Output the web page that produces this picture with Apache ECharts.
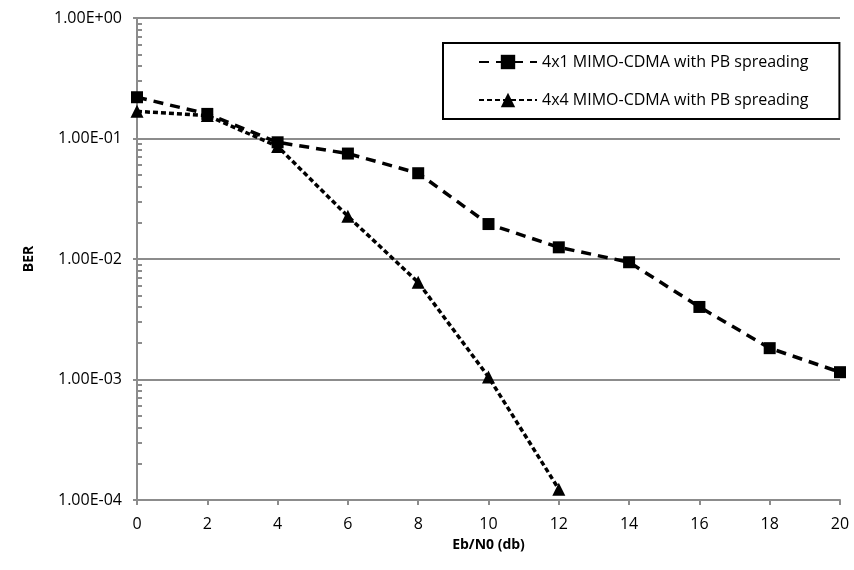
<!DOCTYPE html>
<html>
<head>
<meta charset="utf-8">
<script src="https://cdn.jsdelivr.net/npm/echarts@6/dist/echarts.min.js"></script>
<style>
  html, body { margin: 0; padding: 0; background: #fff; }
  #chart { width: 854px; height: 570px; }
</style>
</head>
<body>
<div id="chart"></div>
<script>
var ebn0 = [0, 2, 4, 6, 8, 10, 12, 14, 16, 18, 20];
var ber4x1 = [0.22, 0.16, 0.093, 0.075, 0.0515, 0.0195, 0.0125, 0.0094, 0.0040, 0.00182, 0.00115];
var ber4x4 = [0.168, 0.155, 0.086, 0.0226, 0.0064, 0.00105, 0.000123];
var seriesNames = ['4x1 MIMO-CDMA with PB spreading', '4x4 MIMO-CDMA with PB spreading'];

var gray = '#8c8c8c';
var font = '"Open Sans", Lato, sans-serif';

function pairs(xs, ys) {
  var out = [];
  for (var i = 0; i < ys.length; i++) {
    out.push([xs[i], ys[i]]);
  }
  return out;
}

// 1.00E-01 style labels
function sciLabel(v) {
  var p = v.toExponential(2).split('e');
  var ex = parseInt(p[1], 10);
  var a = Math.abs(ex);
  return p[0] + 'E' + (ex < 0 ? '-' : '+') + (a < 10 ? '0' : '') + a;
}

var chart = echarts.init(document.getElementById('chart'));
chart.setOption({
  animation: false,
  textStyle: { fontFamily: font },
  grid: { left: 137, right: 14, top: 18, bottom: 70 },
  legend: {
    orient: 'vertical',
    left: 443,
    top: 43,
    padding: [11, 31, 11, 35],
    itemGap: 22,
    itemWidth: 58,
    itemHeight: 18,
    borderColor: '#000',
    borderWidth: 2,
    textStyle: { fontSize: 16, color: '#000', fontFamily: font },
    data: seriesNames
  },
  xAxis: {
    type: 'value',
    min: 0,
    max: 20,
    interval: 2,
    name: 'Eb/N0 (db)',
    nameLocation: 'middle',
    nameGap: 38,
    nameTextStyle: { fontWeight: 'bold', fontSize: 14, color: '#000' },
    axisLine: { lineStyle: { color: gray, width: 2 } },
    axisTick: { length: 5, lineStyle: { color: gray, width: 2 } },
    axisLabel: { fontSize: 16, fontFamily: font, color: '#000', margin: 16 },
    splitLine: { show: false }
  },
  yAxis: [
    {
      type: 'log',
      logBase: 10,
      min: 0.0001,
      max: 1,
      splitNumber: 4,
      name: 'BER',
      nameLocation: 'middle',
      nameGap: 101,
      nameRotate: 90,
      nameTextStyle: { fontWeight: 'bold', fontSize: 14, color: '#000' },
      axisLine: { show: true, lineStyle: { color: gray, width: 2 } },
      axisTick: { show: true, inside: true, length: 5, lineStyle: { color: gray, width: 2 } },
      minorTick: { show: true, splitNumber: 9, length: 5, lineStyle: { color: gray, width: 2 } },
      axisLabel: { fontSize: 16, fontFamily: font, color: '#000', margin: 15, formatter: sciLabel },
      splitLine: { show: true, lineStyle: { color: gray, width: 2 } }
    },
    {
      // outside stubs of the major ticks
      type: 'log',
      logBase: 10,
      min: 0.0001,
      max: 1,
      splitNumber: 4,
      position: 'left',
      axisLine: { show: false },
      axisLabel: { show: false },
      splitLine: { show: false },
      minorTick: { show: false },
      axisTick: { show: true, length: 4, lineStyle: { color: gray, width: 2 } }
    }
  ],
  series: [
    {
      name: seriesNames[0],
      type: 'line',
      data: pairs(ebn0, ber4x1),
      symbol: 'rect',
      symbolSize: 12,
      itemStyle: { color: '#000' },
      lineStyle: { color: '#000', width: 3.5, type: [10, 7] }
    },
    {
      name: seriesNames[1],
      type: 'line',
      data: pairs(ebn0, ber4x4),
      symbol: 'triangle',
      symbolSize: 13,
      itemStyle: { color: '#000' },
      lineStyle: { color: '#000', width: 3.5, type: [5, 3] }
    }
  ]
});
</script>
</body>
</html>
